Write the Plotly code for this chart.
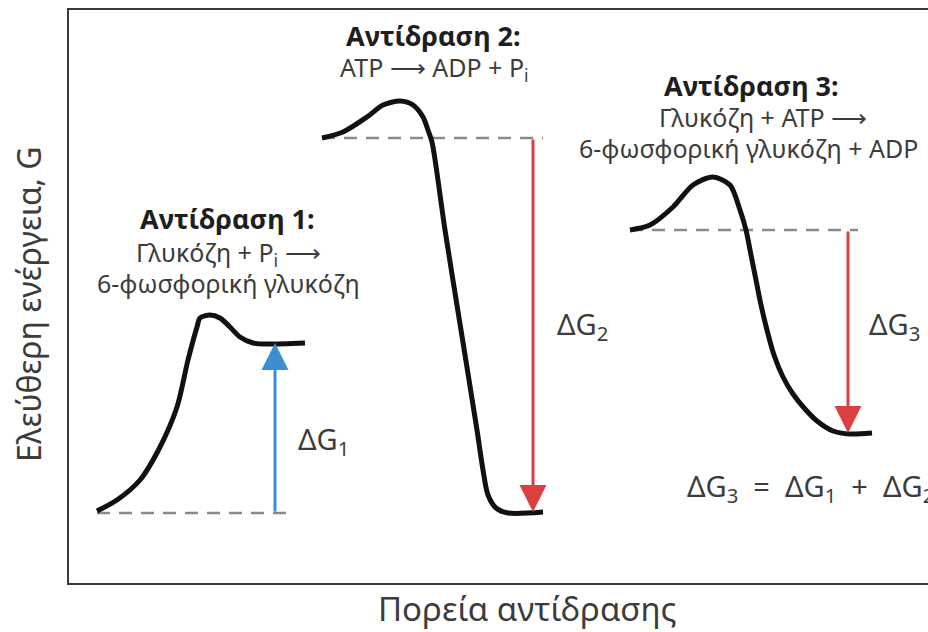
import plotly.graph_objects as go

# ---- data (reaction progress, free energy G) ----
r1_x = [28, 48, 71, 91, 108, 119, 128, 131, 141, 151, 161, 171, 184, 196, 236]
r1_g = [72, 83, 103, 136, 176, 223, 256, 265, 268, 265, 256, 246, 240, 239, 240]

r2_x = [253, 274, 298, 314, 331, 344, 354, 359, 363, 376, 392, 408, 414, 419, 427, 439, 474]
r2_g = [445, 451, 466, 478, 482, 478, 466, 453, 441, 353, 253, 153, 113, 88, 75, 70, 71]

r3_x = [561, 581, 604, 624, 644, 661, 671, 677, 682, 687, 692, 698, 705, 714, 724, 736, 748, 764, 781, 803]
r3_g = [353, 358, 376, 398, 406, 398, 373, 353, 328, 303, 278, 253, 228, 206, 189, 174, 162, 152, 149, 150]

# reference levels (start G) and extent of dashed guide lines
levels_g = [70, 445, 353]
levels_x0 = [28, 253, 561]
levels_x1 = [226, 474, 789]

# ΔG arrows: x position, from G, to G
arrow_x = [206, 464, 779]
arrow_from = [70, 445, 353]
arrow_to = [240, 71, 150]
arrow_col = ["#3b8fd1", "#d9403f", "#d9403f"]

dg_labels = ["ΔG<sub>1</sub>", "ΔG<sub>2</sub>", "ΔG<sub>3</sub>"]
dg_label_x = [227, 486, 798]
dg_label_g = [143, 258, 258]

titles = ["Αντίδραση 1:", "Αντίδραση 2:", "Αντίδραση 3:"]
title_x = [158, 364, 682]
title_g = [365, 548, 498]
eqs = [["Γλυκόζη + P<sub>i</sub> ⟶", "6-φωσφορική γλυκόζη"],
       ["ATP ⟶ ADP + P<sub>i</sub>"],
       ["Γλυκόζη + ATP ⟶", "6-φωσφορική γλυκόζη + ADP"]]
eq_x = [[159, 159], [365], [694, 508]]
eq_anchor = [["center", "center"], ["center"], ["center", "left"]]
eq_g = [[330, 300], [515], [466, 435]]

sum_label = "ΔG<sub>3</sub>  =  ΔG<sub>1</sub>  +  ΔG<sub>2</sub>"
sum_x, sum_g = 616, 96

xlabel = "Πορεία αντίδρασης"
ylabel = "Ελεύθερη ενέργεια, G"

FONT = "Noto Sans"
TXT = "#3c3c3c"

fig = go.Figure()

# dashed guides
for g, a, b in zip(levels_g, levels_x0, levels_x1):
    fig.add_trace(go.Scatter(x=[a, b], y=[g, g], mode="lines",
                             line=dict(color="#8a8a8a", width=2.5, dash="13px,9px"),
                             hoverinfo="skip", showlegend=False))

# energy curves
for xs, gs in [(r1_x, r1_g), (r2_x, r2_g), (r3_x, r3_g)]:
    fig.add_trace(go.Scatter(x=xs, y=gs, mode="lines",
                             line=dict(color="#111111", width=5, shape="spline", smoothing=0.8),
                             hoverinfo="skip", showlegend=False))

ann = []
for x, a, b, c in zip(arrow_x, arrow_from, arrow_to, arrow_col):
    ann.append(dict(x=x, y=b, ax=x, ay=a, xref="x", yref="y", axref="x", ayref="y",
                    text="", showarrow=True, arrowhead=2, arrowsize=1.8,
                    arrowwidth=3, arrowcolor=c))

for t, x, g in zip(dg_labels, dg_label_x, dg_label_g):
    ann.append(dict(x=x, y=g, xref="x", yref="y", text=t, showarrow=False,
                    xanchor="left", yanchor="middle",
                    font=dict(family=FONT, size=29, color=TXT)))

for t, x, g in zip(titles, title_x, title_g):
    ann.append(dict(x=x, y=g, xref="x", yref="y", text="<b>" + t + "</b>", showarrow=False,
                    xanchor="center", yanchor="middle",
                    font=dict(family=FONT, size=27, color="#1e1e1e")))

for lines, xs, gs, anc in zip(eqs, eq_x, eq_g, eq_anchor):
    for t, x, g, a in zip(lines, xs, gs, anc):
        ann.append(dict(x=x, y=g, xref="x", yref="y", text=t, showarrow=False,
                        xanchor=a, yanchor="middle",
                        font=dict(family=FONT, size=25, color=TXT)))

ann.append(dict(x=sum_x, y=sum_g, xref="x", yref="y", text=sum_label, showarrow=False,
                xanchor="left", yanchor="middle",
                font=dict(family=FONT, size=29, color=TXT)))

ann.append(dict(x=(527 - 69) / 859, y=-0.044, xref="paper", yref="paper", text=xlabel,
                showarrow=False, xanchor="center", yanchor="middle",
                font=dict(family=FONT, size=33, color=TXT)))
ann.append(dict(x=(28 - 69) / 859, y=(583 - 305) / 573, xref="paper", yref="paper", text=ylabel,
                showarrow=False, textangle=-90, xanchor="center", yanchor="middle",
                font=dict(family=FONT, size=32, color=TXT)))

fig.update_layout(
    width=928, height=632,
    margin=dict(l=69, r=0, t=10, b=49),
    paper_bgcolor="white", plot_bgcolor="white",
    annotations=ann,
    xaxis=dict(range=[0, 859], showgrid=False, zeroline=False, showticklabels=False,
               ticks="", showline=True, mirror=True, linecolor="#3a3a3a", linewidth=2),
    yaxis=dict(range=[0, 573], showgrid=False, zeroline=False, showticklabels=False,
               ticks="", showline=True, linecolor="#3a3a3a", linewidth=2),
)

# remove the default 8px page margin so the 928x632 figure fills the window exactly
fig.write_html("out.html", config={"displayModeBar": False},
               post_script="document.body.style.margin='0';document.body.style.overflow='hidden';")
